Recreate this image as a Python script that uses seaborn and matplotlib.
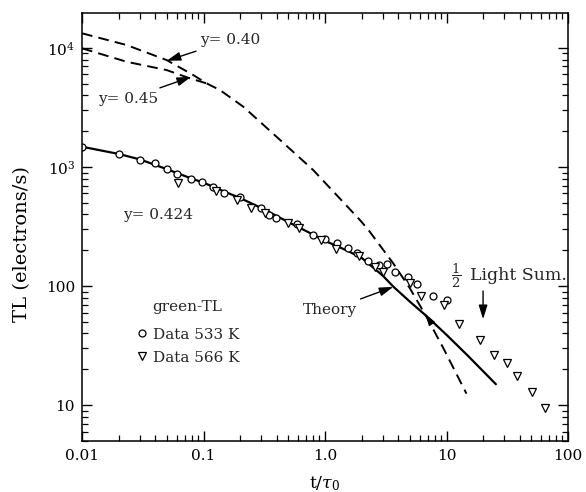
import numpy as np
import pandas as pd
import matplotlib
matplotlib.use("Agg")
import matplotlib.pyplot as plt
import seaborn as sns
from matplotlib.ticker import LogLocator, NullFormatter, FixedLocator, FixedFormatter

# ---------------- data ----------------
theory_t = [0.01, 0.02, 0.03, 0.05, 0.08, 0.1, 0.15, 0.2, 0.3, 0.5, 0.7, 1.0, 1.5, 2.0, 3.0, 3.65, 5.0, 6.85, 10, 15, 25.5]
theory_TL = [1483, 1290, 1160, 960, 800, 740, 620, 550, 452, 345, 290, 240, 200, 173, 122, 99, 74, 56, 39, 26, 15]

y40_t = [0.01, 0.0233, 0.0498, 0.0824, 0.106, 0.137, 0.213, 0.427, 0.80, 1.94, 2.28, 3.65, 5.0, 6.85, 9.44, 14.6]
y40_TL = [13300, 10600, 7920, 5930, 5050, 4430, 3210, 1690, 944, 359, 296, 155, 95.7, 55.2, 30, 12.5]

y45_t = [0.01, 0.0233, 0.0498, 0.0775, 0.106]
y45_TL = [9950, 7670, 6530, 5560, 5050]

d533_t = [0.01, 0.02, 0.03, 0.04, 0.05, 0.06, 0.079, 0.097, 0.12, 0.148, 0.20, 0.297, 0.348, 0.395,
          0.59, 0.79, 1.0, 1.25, 1.56, 1.82, 2.28, 2.8, 3.25, 3.77, 4.85, 5.68, 7.7, 10.0]
d533_TL = [1483, 1280, 1146, 1086, 957, 873, 793, 755, 682, 608, 556, 450, 395, 371,
           332, 268, 248, 231, 208, 190, 162, 150, 152, 132, 120, 104, 82, 77]

d566_t = [0.062, 0.127, 0.1875, 0.244, 0.318, 0.493, 0.615, 0.922, 1.23, 1.91, 2.60, 3.02, 5.0,
          6.14, 9.5, 12.7, 18.9, 24.8, 31.3, 38.3, 50.8, 64.7]
d566_TL = [738, 632, 528, 450, 408, 340, 305, 244, 205, 179, 145, 132, 107,
           83, 69, 47.7, 35.6, 26.3, 22.4, 17.6, 12.9, 9.4]

xticks = [0.01, 0.1, 1, 10, 100]
xticklabels = ["0.01", "0.1", "1.0", "10", "100"]
yticks = [10, 100, 1000, 10000]
yticklabels = ["10", "100", r"$10^3$", r"$10^4$"]

# ---------------- style ----------------
sns.set_theme(style="ticks")
plt.rcParams["font.family"] = ["DejaVu Serif"]
plt.rcParams["mathtext.fontset"] = "dejavuserif"
plt.rcParams["axes.linewidth"] = 1.1

fig = plt.figure(figsize=(5.86, 4.92), dpi=100)
fig.patch.set_facecolor("white")
ax = fig.add_axes([82 / 586, 51 / 492, 486 / 586, 428 / 492])
ax.set_facecolor("white")
ax.set_xscale("log")
ax.set_yscale("log")

dash = (0, (5.5, 3.2))
# curves
sns.lineplot(x=theory_t, y=theory_TL, ax=ax, color="black", lw=1.6,
             estimator=None, sort=False, legend=False)
sns.lineplot(x=y40_t, y=y40_TL, ax=ax, color="black", lw=1.4,
             estimator=None, sort=False, legend=False, linestyle=dash)
sns.lineplot(x=y45_t, y=y45_TL, ax=ax, color="black", lw=1.4,
             estimator=None, sort=False, legend=False, linestyle=dash)

# data points
sns.lineplot(x=d533_t, y=d533_TL, ax=ax, color="black", linestyle="", marker="o",
             markersize=5, markerfacecolor="white", markeredgecolor="black",
             markeredgewidth=0.9, estimator=None, sort=False, label="Data 533 K")
sns.lineplot(x=d566_t, y=d566_TL, ax=ax, color="black", linestyle="", marker="v",
             markersize=6, markerfacecolor="white", markeredgecolor="black",
             markeredgewidth=0.9, estimator=None, sort=False, label="Data 566 K")

ax.set_xlim(0.01, 100)
ax.set_ylim(5, 19700)

# ticks
ax.xaxis.set_major_locator(FixedLocator(xticks))
ax.xaxis.set_major_formatter(FixedFormatter(xticklabels))
ax.yaxis.set_major_locator(FixedLocator(yticks))
ax.yaxis.set_major_formatter(FixedFormatter(yticklabels))
for axis in (ax.xaxis, ax.yaxis):
    axis.set_minor_locator(LogLocator(base=10, subs=np.arange(2, 10), numticks=20))
    axis.set_minor_formatter(NullFormatter())
ax.tick_params(which="both", direction="in", top=True, right=True, color="black")
ax.tick_params(which="major", length=7.5, width=1.0, labelsize=11, colors="black")
ax.tick_params(which="minor", length=4, width=0.9)
ax.tick_params(axis="x", which="major", pad=6)
ax.tick_params(axis="y", which="major", pad=5)
for s in ax.spines.values():
    s.set_color("black")
    s.set_visible(True)

ax.set_xlabel(r"t/$\tau_0$", fontsize=12.5, color="black")
ax.set_ylabel("TL (electrons/s)", fontsize=14, color="black")
ax.xaxis.set_label_coords(0.5, -0.078)
ax.yaxis.set_label_coords(-0.105, 0.461)

# legend
leg = ax.legend(title="green-TL", loc="upper left", bbox_to_anchor=(0.11, 0.33),
                frameon=False, borderpad=0, borderaxespad=0, handlelength=0.8,
                handletextpad=0.35, labelspacing=0.6, fontsize=11, title_fontsize=11)
leg._legend_box.sep = 10

# annotations
arrow = dict(arrowstyle="-|>,head_length=0.7,head_width=0.22", color="black", lw=1.0,
             shrinkA=2, shrinkB=0, mutation_scale=12)
ax.annotate("y= 0.40", xy=(0.0498, 7820), xytext=(0.0935, 11680), fontsize=11,
            ha="left", va="center", arrowprops=arrow)
ax.annotate("y= 0.45", xy=(0.0789, 5720), xytext=(0.01354, 3727), fontsize=11,
            ha="left", va="center", arrowprops=arrow)
ax.text(0.0219, 395, "y= 0.424", fontsize=11, ha="left", va="center")
ax.annotate("Theory", xy=(3.65, 98.6), xytext=(0.659, 62.8), fontsize=11,
            ha="left", va="center", arrowprops=arrow)
ax.text(10.8, 122, r"$\dfrac{1}{2}$", fontsize=9.5, ha="left", va="center")
ax.text(15.6, 124, "Light Sum.", fontsize=12.5, ha="left", va="center")
ax.annotate("", xy=(20, 52.8), xytext=(20, 96), arrowprops=arrow)
ax.annotate("", xy=(6.7, 58), xytext=(7.4, 50),
            arrowprops=dict(arrowstyle="-|>,head_length=0.7,head_width=0.22", color="black",
                            lw=0.8, shrinkA=0, shrinkB=0, mutation_scale=10))

fig.savefig("out.png", dpi=100, facecolor="white")
